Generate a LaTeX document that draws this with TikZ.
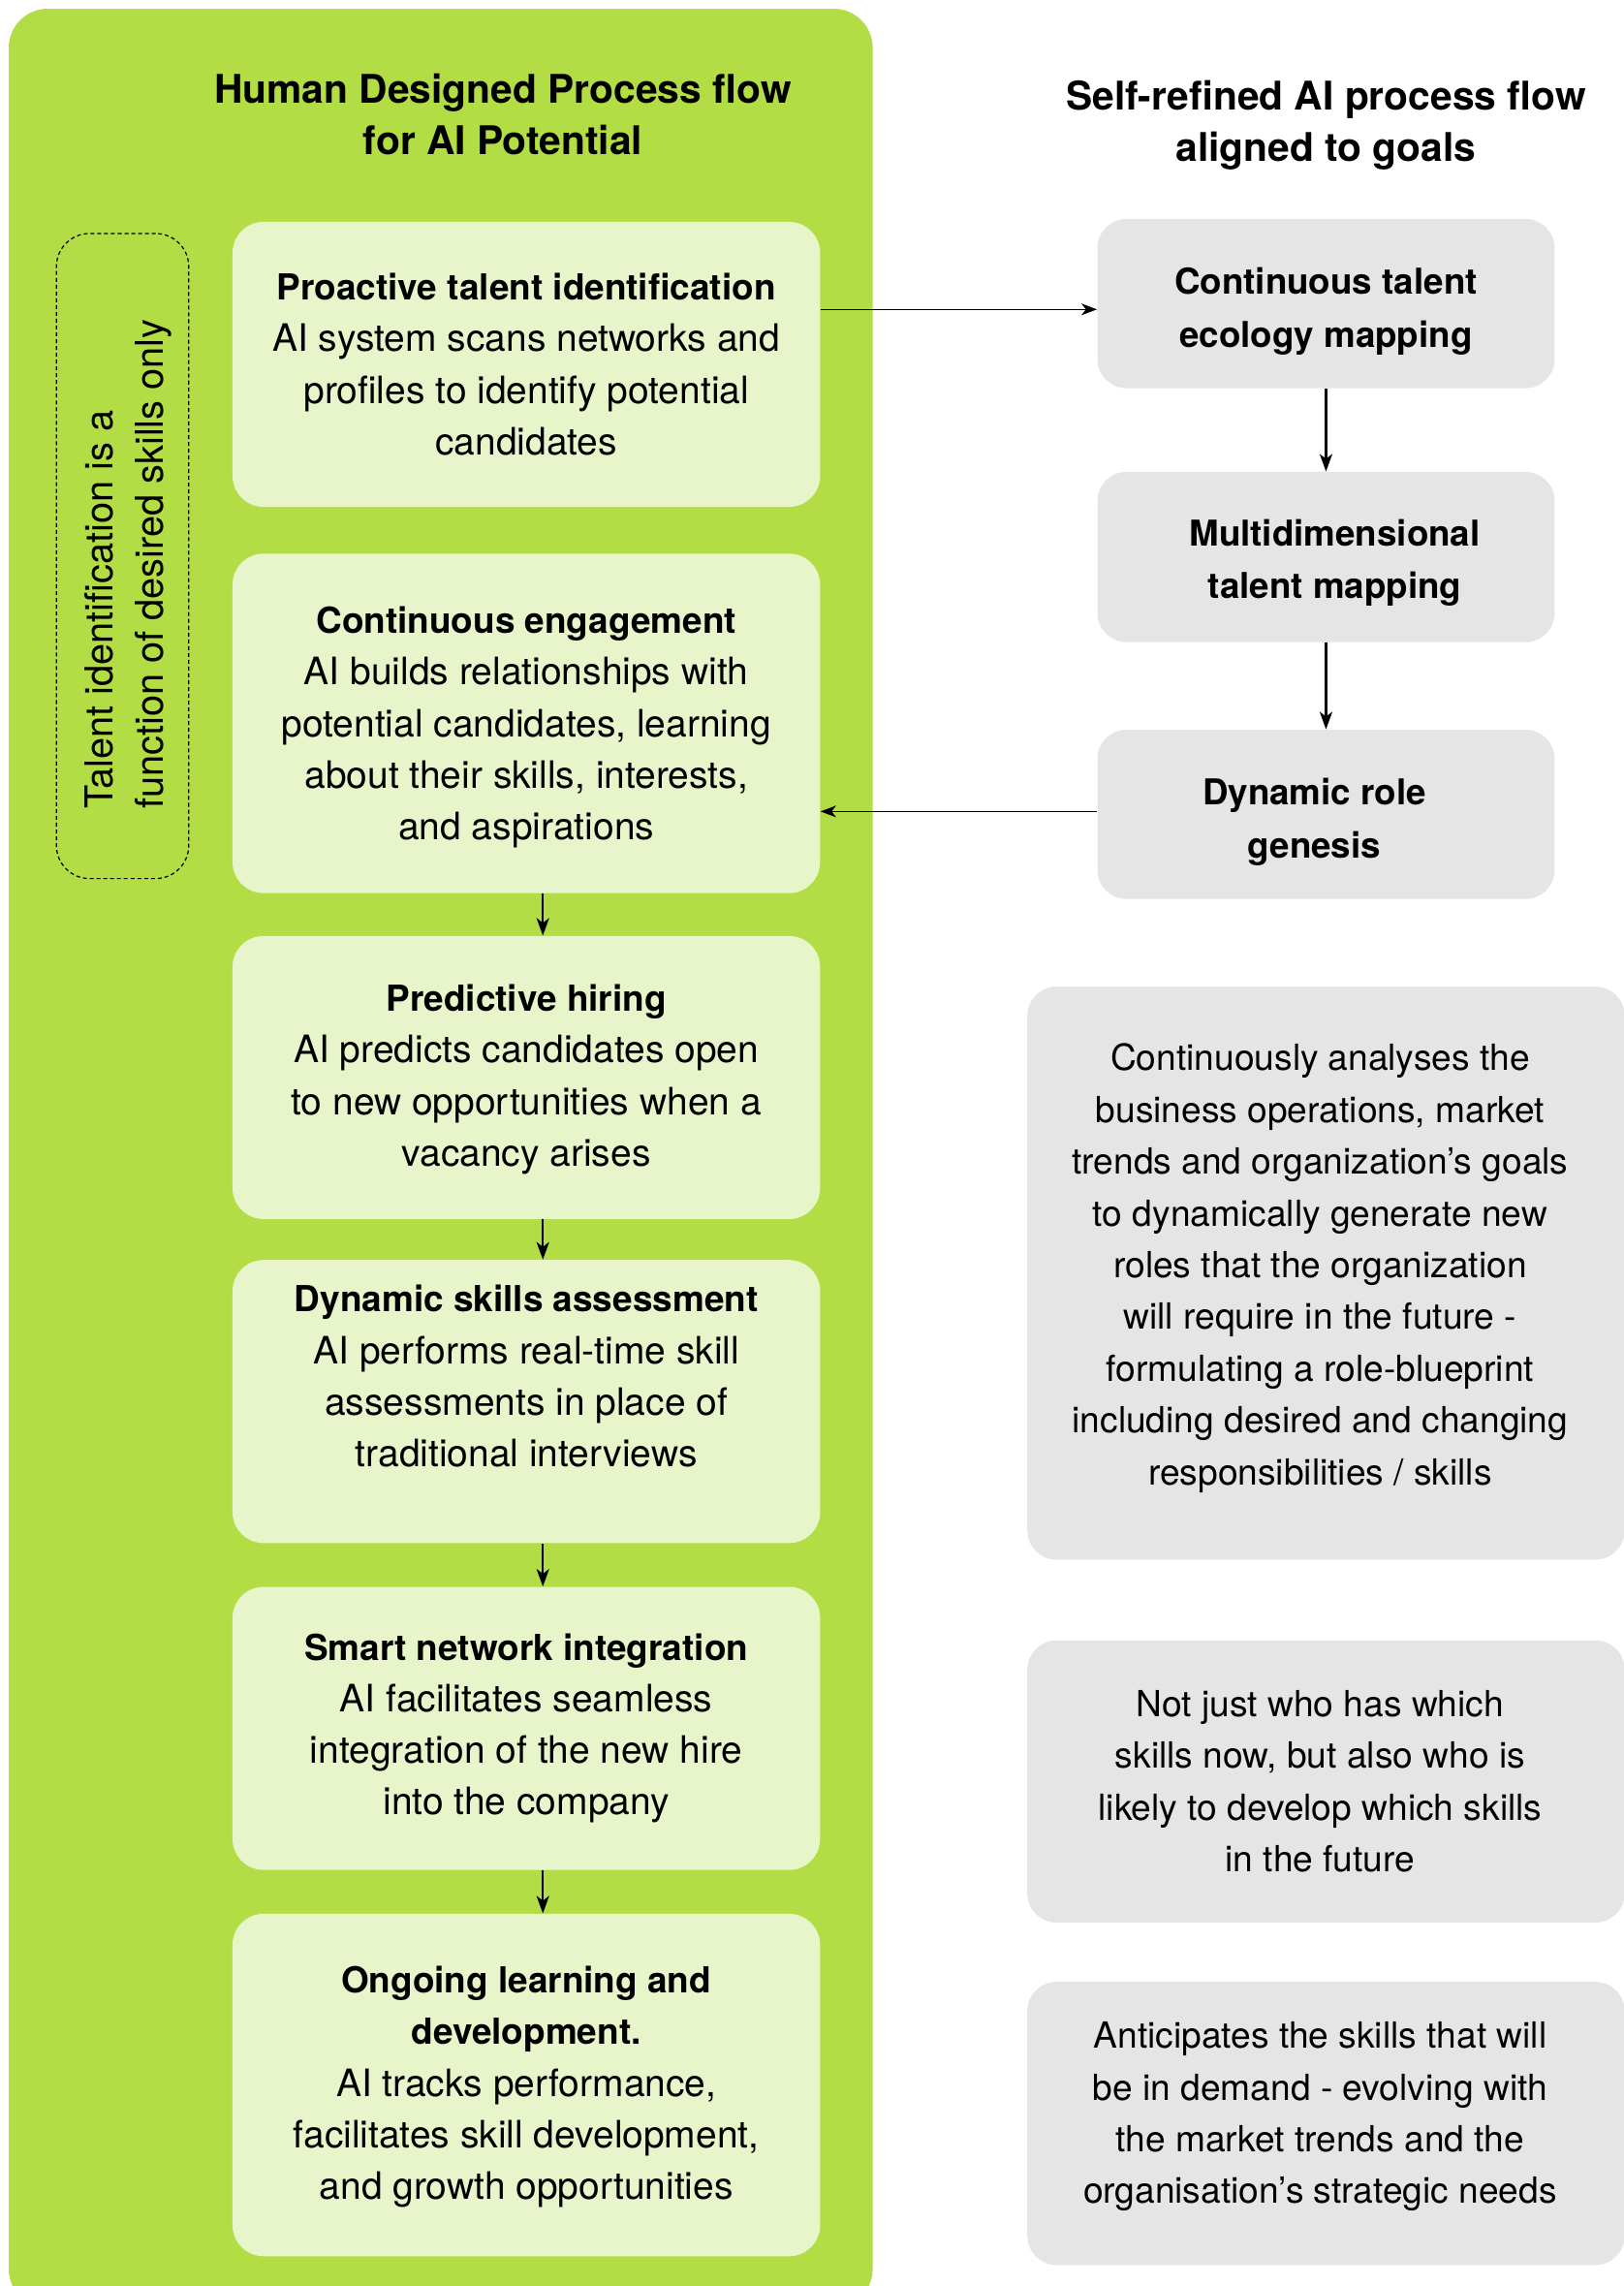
\documentclass[tikz,border=0pt]{standalone}
\usepackage{fontspec}
\setmainfont{TeX Gyre Heros}
\usetikzlibrary{arrows.meta}
\definecolor{panelgreen}{RGB}{178,221,68}
\definecolor{boxgreen}{RGB}{232,244,201}
\definecolor{boxgray}{RGB}{229,229,229}
\newcommand\hd[1]{{\fontsize{18.4pt}{26.5pt}\selectfont\bfseries #1}}
\begin{document}
\begin{tikzpicture}[x=0.5pt,y=-0.5pt,
  lbox/.style={fill=boxgreen, rounded corners=16pt, inner sep=0pt, minimum width=302pt},
  gbox/.style={fill=boxgray, rounded corners=15pt, inner sep=0pt},
  ltext/.style={align=center, inner sep=0pt, font=\fontsize{19.4pt}{26.5pt}\selectfont},
  rtext/.style={align=center, inner sep=0pt, font=\fontsize{18.5pt}{26.6pt}\selectfont},
  rhead/.style={align=center, inner sep=0pt, font=\fontsize{18.3pt}{27pt}\selectfont\bfseries},
  titletext/.style={align=center, inner sep=0pt, font=\fontsize{20.3pt}{26.3pt}\selectfont\bfseries},
  arr/.style={-{Stealth[length=9pt,width=6.5pt,inset=2.5pt]}, line width=1.1pt},
  harr/.style={-{Stealth[length=8pt,width=6pt,inset=2.3pt]}, line width=0.7pt},
]
\useasboundingbox (0,0) rectangle (1669.3,2349.6);
\begin{scope}
  \clip (0,0) rectangle (1669.3,2349.6);
  \fill[panelgreen, rounded corners=20pt] (9,9) rectangle (897,2372);
\end{scope}

% titles
\node[titletext] (tl) at (517,117.5) {Human Designed Process flow\\for AI Potential};
\node[titletext] (tr) at (1363,129) {Self-refined AI process flow\\aligned to goals};

% dashed side note
\node[draw, dashed, dash pattern=on 2pt off 1.5pt, line width=0.6pt, rounded corners=17pt,
      minimum width=68pt, minimum height=331.5pt, inner sep=0pt] (side) at (126,571.5) {};
\node[rotate=90, anchor=west, align=left, inner sep=0pt,
      font=\fontsize{19.8pt}{26pt}\selectfont] (sidetext) at (131.5,832)
      {Talent identification is a\\function of desired skills only};

% left boxes
\node[lbox, minimum height=146.5pt] (b1) at (541,374.5) {};
\node[lbox, minimum height=174.5pt] (b2) at (541,743.5) {};
\node[lbox, minimum height=145.5pt] (b3) at (541,1107.5) {};
\node[lbox, minimum height=145.5pt] (b4) at (541,1440.5) {};
\node[lbox, minimum height=145.5pt] (b5) at (541,1776.5) {};
\node[lbox, minimum height=176pt] (b6) at (541,2143) {};

\node[ltext] (t1) at (b1.center) {\hd{Proactive talent identification}\\AI system scans networks and\\profiles to identify potential\\candidates};
\node[ltext] (t2) at ([yshift=-2pt]b2.center) {\hd{Continuous engagement}\\AI builds relationships with\\potential candidates, learning\\about their skills, interests,\\and aspirations};
\node[ltext] (t3) at ([yshift=-1pt]b3.center) {\hd{Predictive hiring}\\AI predicts candidates open\\to new opportunities when a\\vacancy arises};
\node[ltext] (t4) at ([yshift=13pt]b4.center) {\hd{Dynamic skills assessment}\\AI performs real-time skill\\assessments in place of\\traditional interviews};
\node[ltext] (t5) at (b5.center) {\hd{Smart network integration}\\AI facilitates seamless\\integration of the new hire\\into the company};
\node[ltext] (t6) at ([yshift=-1pt]b6.center) {\hd{Ongoing learning and}\\\hd{development.}\\AI tracks performance,\\facilitates skill development,\\and growth opportunities};

% right flow boxes
\node[gbox, minimum width=235pt, minimum height=87pt] (r1) at (1363,312) {};
\node[gbox, minimum width=235pt, minimum height=87.5pt] (r2) at (1363,572.5) {};
\node[gbox, minimum width=235pt, minimum height=87pt] (r3) at (1363,837) {};
\node[rhead] (rt1) at ([yshift=-4pt]r1.center) {Continuous talent\\ecology mapping};
\node[rhead] (rt2) at ([xshift=4.5pt,yshift=-3pt]r2.center) {Multidimensional\\talent mapping};
\node[rhead] (rt3) at ([xshift=-6pt,yshift=-4pt]r3.center) {Dynamic role\\genesis};

% right description boxes
\node[gbox, minimum width=307pt, minimum height=294.5pt] (q1) at (1363,1308.5) {};
\node[gbox, minimum width=307pt, minimum height=145pt] (q2) at (1363,1831) {};
\node[gbox, minimum width=307pt, minimum height=145.5pt] (q3) at (1363,2182.5) {};
\node[rtext] (qt1) at ([xshift=-3pt,yshift=2.5pt]q1.center) {Continuously analyses the\\business operations, market\\trends and organization’s goals\\to dynamically generate new\\roles that the organization\\will require in the future -\\formulating a role-blueprint\\including desired and changing\\responsibilities / skills};
\node[rtext] (qt2) at ([xshift=-3pt]q2.center) {Not just who has which\\skills now, but also who is\\likely to develop which skills\\in the future};
\node[rtext] (qt3) at ([xshift=-3pt,yshift=3.5pt]q3.center) {Anticipates the skills that will\\be in demand - evolving with\\the market trends and the\\organisation’s strategic needs};

% connectors
\coordinate (ax) at (558,0);
\draw[arr] (b2.south -| ax) -- (b3.north -| ax);
\draw[arr] (b3.south -| ax) -- (b4.north -| ax);
\draw[arr] (b4.south -| ax) -- (b5.north -| ax);
\draw[arr] (b5.south -| ax) -- (b6.north -| ax);
\draw[arr] (r1.south) -- (r2.north);
\draw[arr] (r2.south) -- (r3.north);
\coordinate (hy) at (0,318);
\coordinate (hy2) at (0,834);
\draw[harr] (b1.east |- hy) -- (r1.west |- hy);
\draw[harr] (r3.west |- hy2) -- (b2.east |- hy2);
\end{tikzpicture}
\end{document}
